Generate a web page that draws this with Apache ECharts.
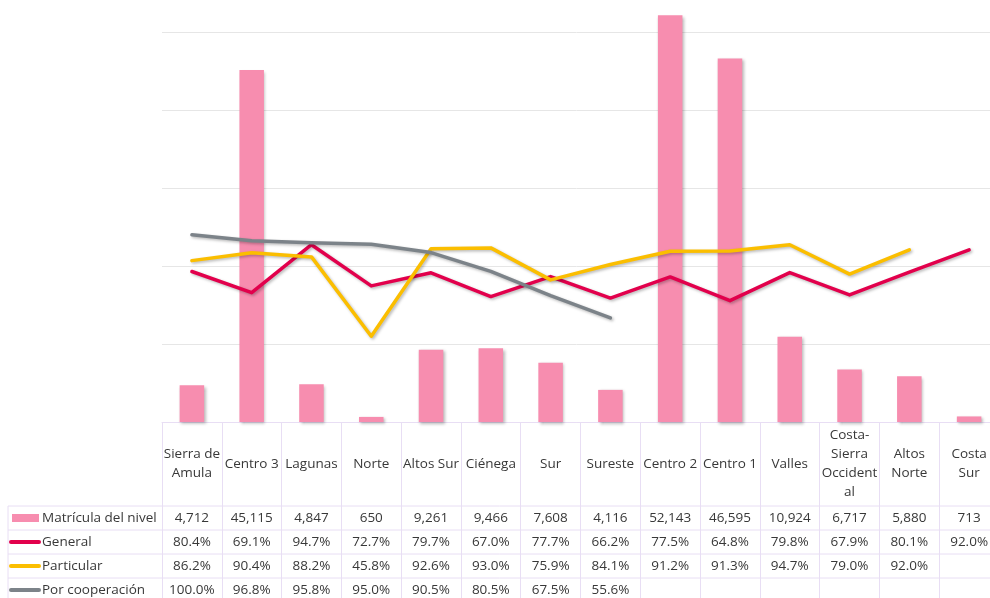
<!DOCTYPE html>
<html>
<head>
<meta charset="utf-8">
<script src="https://cdn.jsdelivr.net/npm/echarts@6/dist/echarts.min.js"></script>
<style>
  html, body { margin: 0; padding: 0; background: #fff; }
  #chart { width: 990px; height: 598px; }
</style>
</head>
<body>
<div id="chart"></div>
<script>
// categorías (regiones)
var categories = ['Sierra de\nAmula', 'Centro 3', 'Lagunas', 'Norte', 'Altos Sur', 'Ciénega', 'Sur', 'Sureste',
  'Centro 2', 'Centro 1', 'Valles', 'Costa-\nSierra\nOccident\nal', 'Altos\nNorte', 'Costa\nSur']
// matrícula del nivel
var matricula = [4712, 45115, 4847, 650, 9261, 9466, 7608, 4116, 52143, 46595, 10924, 6717, 5880, 713]
// porcentajes por tipo de sostenimiento
var general = [80.4, 69.1, 94.7, 72.7, 79.7, 67.0, 77.7, 66.2, 77.5, 64.8, 79.8, 67.9, 80.1, 92.0]
var particular = [86.2, 90.4, 88.2, 45.8, 92.6, 93.0, 75.9, 84.1, 91.2, 91.3, 94.7, 79.0, 92.0, null]
var cooperacion = [100.0, 96.8, 95.8, 95.0, 90.5, 80.5, 67.5, 55.6, null, null, null, null, null, null]
// nombres de las filas de la tabla
var rowNames = ['Matrícula del nivel', 'General', 'Particular', 'Por cooperación']

var colors = ['#F78DAF', '#E2004C', '#FBBE00', '#7C8389']
var lineColor = '#E8DEF4'
var textColor = '#383838'
var font = '"Open Sans", "Noto Sans", sans-serif'
var fontSize = 13.5

function pct (v) { return v == null ? '' : v.toFixed(1) + '%' }
function num (v) { return v.toLocaleString('en-US') }

// filas de la tabla (distancia del centro al eje, px)
var rows = [
  { data: matricula.map(num), y: 96 },
  { data: general.map(pct), y: 120 },
  { data: particular.map(pct), y: 144 },
  { data: cooperacion.map(pct), y: 168 }
]

var xAxes = [{
  type: 'category',
  data: categories,
  boundaryGap: true,
  axisLine: { lineStyle: { color: lineColor, width: 1 } },
  axisTick: { show: true, length: 180, lineStyle: { color: lineColor } },
  axisLabel: {
    interval: 0, margin: 42, verticalAlign: 'middle', lineHeight: 19,
    color: textColor, fontSize: fontSize, fontFamily: font
  }
}]
rows.forEach(function (r) {
  xAxes.push({
    type: 'category',
    data: r.data,
    position: 'bottom',
    boundaryGap: true,
    axisLine: { show: false },
    axisTick: { show: false },
    splitLine: { show: false },
    axisLabel: {
      interval: 0, margin: r.y, verticalAlign: 'middle',
      color: textColor, fontSize: fontSize, fontFamily: font
    }
  })
})

var shadow = { shadowColor: 'rgba(0,0,0,0.28)', shadowBlur: 3, shadowOffsetX: 1.5, shadowOffsetY: 1.5 }

function lineSeries (name, data, color) {
  return {
    name: name,
    type: 'line',
    yAxisIndex: 1,
    data: data,
    symbol: 'none',
    connectNulls: false,
    lineStyle: Object.assign({ color: color, width: 3.5, cap: 'round', join: 'round' }, shadow),
    itemStyle: { color: color }
  }
}

// llaves de leyenda y líneas de la tabla
var graphics = []
var rowY = [518, 542, 566, 590]
var hLines = [506, 530, 554, 578]
hLines.forEach(function (y) {
  graphics.push({ type: 'line', shape: { x1: 8, y1: y, x2: 1000, y2: y }, style: { stroke: lineColor, lineWidth: 1 } })
})
graphics.push({ type: 'line', shape: { x1: 8, y1: 506, x2: 8, y2: 600 }, style: { stroke: lineColor, lineWidth: 1 } })
rowNames.forEach(function (n, i) {
  if (i === 0) {
    graphics.push({ type: 'rect', shape: { x: 12, y: rowY[i] - 4, width: 27, height: 8 }, style: { fill: colors[0] } })
  } else {
    graphics.push({ type: 'line', shape: { x1: 11, y1: rowY[i], x2: 39, y2: rowY[i] },
      style: { stroke: colors[i], lineWidth: 4, lineCap: 'round' } })
  }
  graphics.push({ type: 'text', x: 42, y: rowY[i],
    style: { text: n, fill: textColor, font: fontSize + 'px ' + font, verticalAlign: 'middle' } })
})

var chart = echarts.init(document.getElementById('chart'), null, { renderer: 'canvas' })
chart.setOption({
  animation: false,
  backgroundColor: '#fff',
  grid: { left: 162, right: -9, top: -46, bottom: 176, outerBoundsMode: 'none', containLabel: false },
  xAxis: xAxes,
  yAxis: [
    {
      type: 'value', min: 0, max: 60000, interval: 10000,
      axisLabel: { show: false }, axisLine: { show: false }, axisTick: { show: false },
      splitLine: { lineStyle: { color: '#E6E6E6', width: 1 } }
    },
    {
      type: 'value', min: 0, max: 250, interval: 50,
      axisLabel: { show: false }, axisLine: { show: false }, axisTick: { show: false },
      splitLine: { show: false }
    }
  ],
  graphic: graphics,
  series: [
    {
      name: rowNames[0],
      type: 'bar',
      data: matricula,
      barWidth: '41%',
      itemStyle: Object.assign({ color: colors[0] }, shadow)
    },
    lineSeries(rowNames[1], general, colors[1]),
    lineSeries(rowNames[2], particular, colors[2]),
    lineSeries(rowNames[3], cooperacion, colors[3])
  ]
})
</script>
</body>
</html>
